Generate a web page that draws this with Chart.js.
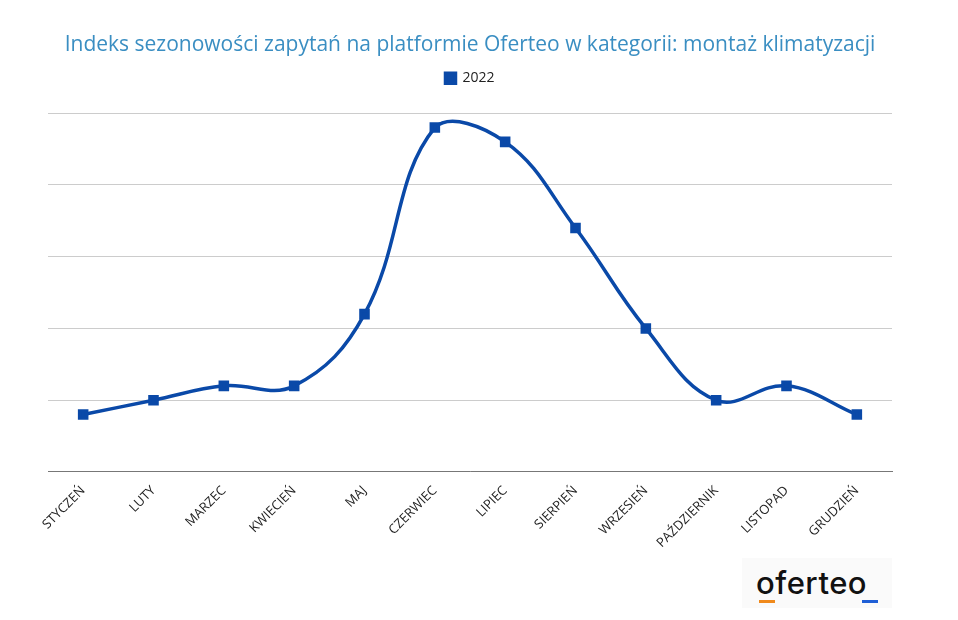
<!DOCTYPE html>
<html>
<head>
<meta charset="utf-8">
<script src="https://cdn.jsdelivr.net/npm/chart.js@4"></script>
<style>
  body { margin: 0; background: #fff; font-family: "Open Sans", sans-serif; }
  #wrap { position: relative; width: 958px; height: 620px; }
  #logo { position: absolute; left: 742px; top: 558px; width: 150px; height: 50px; background: #fafafa; }
  #logo span { position: absolute; left: 14px; top: 6px; font: 500 31px Inter, sans-serif; color: #111; letter-spacing: 0.5px; }
  #logo .u1 { position: absolute; left: 17px; top: 42px; width: 16px; height: 3px; background: #f08a1c; }
  #logo .u2 { position: absolute; left: 120px; top: 42px; width: 16px; height: 3px; background: #1f5fd6; }
</style>
</head>
<body>
<div id="wrap">
  <canvas id="c" width="958" height="620"></canvas>
  <div id="logo"><span>oferteo</span><div class="u1"></div><div class="u2"></div></div>
</div>
<script>
const months = ['STYCZEŃ', 'LUTY', 'MARZEC', 'KWIECIEŃ', 'MAJ', 'CZERWIEC', 'LIPIEC', 'SIERPIEŃ', 'WRZESIEŃ', 'PAŹDZIERNIK', 'LISTOPAD', 'GRUDZIEŃ'];
const index2022 = [0.8, 1.0, 1.2, 1.2, 2.2, 4.8, 4.6, 3.4, 2.0, 1.0, 1.2, 0.8];

// extra room under the legend
const legendGap = {
    id: 'legendGap',
    beforeInit(chart) {
        const fit = chart.legend.fit;
        chart.legend.fit = function () {
            fit.bind(chart.legend)();
            this.height += 18;
        };
    }
};

new Chart(document.getElementById('c'), {
    type: 'line',
    data: {
        labels: months,
        datasets: [{
            label: '2022',
            data: index2022,
            borderColor: '#0a49a8',
            backgroundColor: '#0a49a8',
            borderWidth: 3.5,
            pointStyle: 'rect',
            pointRadius: 5,
            tension: 0.4
        }]
    },
    options: {
        responsive: false,
        animation: false,
        layout: { padding: { left: 48, right: 66, top: 10, bottom: 66 } },
        plugins: {
            title: {
                display: true,
                text: 'Indeks sezonowości zapytań na platformie Oferteo w kategorii: montaż klimatyzacji',
                color: '#3a8ec2',
                font: { size: 21, family: 'Open Sans', weight: '500' },
                padding: { top: 22, bottom: 0 }
            },
            legend: {
                labels: {
                    usePointStyle: true,
                    pointStyle: 'rect',
                    boxWidth: 10,
                    boxHeight: 10,
                    color: '#222',
                    padding: 14,
                    font: { size: 14, family: 'Open Sans' }
                }
            }
        },
        scales: {
            x: {
                offset: true,
                grid: { display: false },
                border: { color: '#777' },
                ticks: { color: '#222', maxRotation: 45, minRotation: 45, font: { size: 13, family: 'Open Sans' } }
            },
            y: {
                min: 0,
                max: 5,
                ticks: { display: false, stepSize: 1 },
                border: { display: false },
                grid: { color: '#cccccc', drawTicks: false }
            }
        }
    },
    plugins: [legendGap]
});
</script>
</body>
</html>
